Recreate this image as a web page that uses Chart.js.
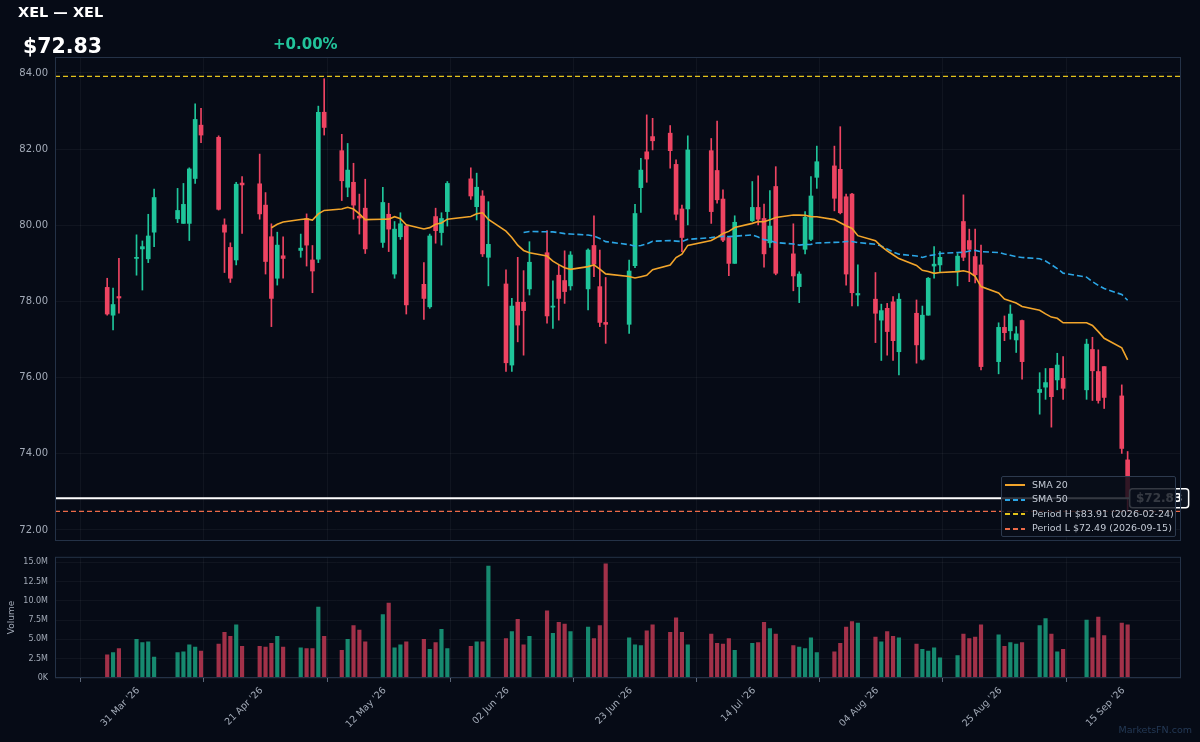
<!DOCTYPE html>
<html>
  <head>
    <title>XEL — XEL</title>
    <style>
      body { margin: 0; background: #060b16; font-family: "DejaVu Sans", sans-serif; }
      #wrap { position: relative; width: 1200px; height: 742px; overflow: hidden; background: #060b16; }
      canvas { position: absolute; left: 0; }
      #price { top: 0; }
      #volume { top: 545px; }
      .txt { position: absolute; line-height: 1; font-weight: bold; white-space: nowrap; }
      #title { left: 18px; top: 5px; font-size: 14.5px; color: #ffffff; }
      #last { left: 23px; top: 36px; font-size: 20.5px; color: #ffffff; }
      #chg { left: 273px; top: 37px; font-size: 15px; color: #22c49b; }
      #mark { position: absolute; right: 8px; top: 724px; font-size: 9.5px; color: rgba(70, 110, 160, 0.45); }
      #legend { position: absolute; left: 1001px; top: 476px; width: 173px; height: 59px;
        background: rgba(8, 13, 24, 0.82); border: 1px solid #2d3a4e; border-radius: 2px; }
      .row { position: absolute; left: 0; height: 14.5px; line-height: 14.5px; font-size: 9.5px; color: #c3cad5; }
      .row span { position: absolute; left: 30px; white-space: nowrap; }
      .row i { position: absolute; left: 3px; top: 6.5px; width: 20px; height: 2px; }
    </style>
  </head>
  <body>
    <div id="wrap">
      <canvas id="price" width="1200" height="554"></canvas>
      <canvas id="volume" width="1200" height="197"></canvas>
      <div class="txt" id="title">XEL — XEL</div>
      <div class="txt" id="last">$72.83</div>
      <div class="txt" id="chg">+0.00%</div>
      <div id="legend"></div>
      <div id="mark">MarketsFN.com</div>
    </div>
    <script src="https://cdn.jsdelivr.net/npm/chart.js@4.4.1/dist/chart.umd.min.js"></script>
    <script>
      // daily candles (NYSE trading days), volume in millions
      const dates = [
        "2026-03-25","2026-03-26","2026-03-27","2026-03-30","2026-03-31","2026-04-01","2026-04-02",
        "2026-04-06","2026-04-07","2026-04-08","2026-04-09","2026-04-10",
        "2026-04-13","2026-04-14","2026-04-15","2026-04-16","2026-04-17",
        "2026-04-20","2026-04-21","2026-04-22","2026-04-23","2026-04-24",
        "2026-04-27","2026-04-28","2026-04-29","2026-04-30","2026-05-01",
        "2026-05-04","2026-05-05","2026-05-06","2026-05-07","2026-05-08",
        "2026-05-11","2026-05-12","2026-05-13","2026-05-14","2026-05-15",
        "2026-05-18","2026-05-19","2026-05-20","2026-05-21","2026-05-22",
        "2026-05-26","2026-05-27","2026-05-28","2026-05-29",
        "2026-06-01","2026-06-02","2026-06-03","2026-06-04","2026-06-05",
        "2026-06-08","2026-06-09","2026-06-10","2026-06-11","2026-06-12",
        "2026-06-15","2026-06-16","2026-06-17","2026-06-18",
        "2026-06-22","2026-06-23","2026-06-24","2026-06-25","2026-06-26",
        "2026-06-29","2026-06-30","2026-07-01","2026-07-02",
        "2026-07-06","2026-07-07","2026-07-08","2026-07-09","2026-07-10",
        "2026-07-13","2026-07-14","2026-07-15","2026-07-16","2026-07-17",
        "2026-07-20","2026-07-21","2026-07-22","2026-07-23","2026-07-24",
        "2026-07-27","2026-07-28","2026-07-29","2026-07-30","2026-07-31",
        "2026-08-03","2026-08-04","2026-08-05","2026-08-06","2026-08-07",
        "2026-08-10","2026-08-11","2026-08-12","2026-08-13","2026-08-14",
        "2026-08-17","2026-08-18","2026-08-19","2026-08-20","2026-08-21",
        "2026-08-24","2026-08-25","2026-08-26","2026-08-27","2026-08-28",
        "2026-08-31","2026-09-01","2026-09-02","2026-09-03","2026-09-04",
        "2026-09-08","2026-09-09","2026-09-10","2026-09-11",
        "2026-09-14","2026-09-15"
      ];
      const opens = [
        78.37,77.64,78.13,79.13,79.38,79.12,79.82,
        80.17,80.05,80.05,81.23,82.63,
        82.31,80.01,79.42,79.09,81.11,
        81.09,80.53,79.70,78.61,79.20,
        79.34,80.18,79.09,79.11,82.97,
        81.96,81.00,81.13,80.24,80.45,
        79.55,80.29,78.72,79.70,79.98,
        78.45,77.86,80.23,79.81,80.36,
        81.22,80.49,80.77,79.16,
        78.46,76.33,77.98,77.98,78.33,
        79.28,77.85,78.69,78.55,78.41,
        78.33,79.47,78.39,77.45,
        77.40,78.94,80.99,81.93,82.33,
        82.42,81.60,80.43,80.43,
        81.96,81.44,80.69,79.68,79.00,
        80.12,80.47,80.18,79.54,81.02,
        79.25,78.39,79.37,79.63,81.26,
        81.56,81.47,80.75,80.82,78.17,
        78.06,77.51,77.82,77.99,76.68,
        77.69,76.48,77.64,78.93,78.96,
        78.78,80.10,79.60,79.18,78.96,
        76.42,77.32,77.23,76.99,77.50,
        75.61,75.75,76.24,75.94,75.98,
        75.68,76.74,76.16,76.29,
        75.52,73.84
      ];
      const highs = [
        78.61,78.35,79.13,79.75,79.59,80.29,80.95,
        80.97,81.10,81.51,83.19,83.07,
        82.35,80.17,79.54,81.13,81.28,
        81.87,80.86,80.04,79.82,79.70,
        79.77,80.30,79.47,83.13,83.85,
        82.39,82.15,81.63,80.82,81.21,
        81.00,80.58,80.10,80.33,80.01,
        79.02,79.77,80.45,80.33,81.15,
        81.51,81.37,80.91,80.62,
        78.83,78.08,79.16,78.81,79.57,
        79.86,78.54,78.96,79.33,79.31,
        79.38,80.25,79.35,78.63,
        79.09,80.55,81.76,82.90,82.81,
        82.62,81.72,80.53,82.35,
        82.28,82.74,80.93,79.70,80.25,
        81.15,81.30,80.56,80.91,81.54,
        80.04,78.78,80.36,81.28,82.08,
        82.08,82.59,80.82,80.84,78.96,
        78.76,77.93,77.95,78.13,78.21,
        78.04,77.88,78.63,79.44,79.31,
        79.26,80.80,79.90,79.90,79.48,
        77.44,77.62,77.91,77.34,77.51,
        76.13,76.24,76.24,76.64,76.55,
        77.01,77.06,76.73,76.29,
        75.81,74.06
      ];
      const lows = [
        77.64,77.25,77.69,78.69,78.30,79.02,79.44,
        80.07,80.05,79.60,81.10,82.17,
        80.40,78.76,78.50,78.96,79.79,
        80.16,78.72,77.34,78.43,78.61,
        79.16,78.93,78.23,79.02,82.37,
        80.65,80.75,80.16,79.77,79.26,
        79.42,79.31,78.61,79.63,77.67,
        77.53,77.82,79.53,79.48,79.98,
        80.68,80.14,79.18,78.41,
        76.16,76.16,76.94,76.59,78.17,
        77.43,77.29,77.51,77.95,78.30,
        77.78,78.65,77.34,76.90,
        77.16,78.89,80.34,81.13,81.98,
        81.50,80.14,79.31,80.01,
        80.05,80.58,79.57,78.68,79.00,
        80.10,80.01,78.90,79.42,78.70,
        78.28,77.97,79.25,79.60,80.97,
        80.38,80.30,78.43,77.88,77.88,
        76.92,76.45,76.59,76.45,76.07,
        76.38,76.46,77.64,78.61,78.78,
        78.41,79.07,78.52,78.49,76.20,
        76.10,76.97,77.01,76.66,75.96,
        75.04,75.43,74.70,75.68,75.43,
        75.43,75.40,75.33,75.19,
        74.01,72.49
      ];
      const closes = [
        77.67,77.92,78.09,79.16,79.44,79.72,80.73,
        80.39,80.55,81.48,82.78,82.37,
        80.42,79.82,78.61,81.08,81.06,
        80.30,79.05,78.08,79.48,79.13,
        79.40,79.48,78.80,82.97,82.57,
        81.17,81.45,80.53,80.19,79.38,
        80.60,79.90,79.90,80.04,77.91,
        78.08,79.72,79.86,80.18,81.10,
        80.77,81.00,79.25,79.50,
        76.39,77.88,77.38,77.76,79.03,
        77.62,77.88,78.08,78.26,79.22,
        79.35,78.98,77.45,77.40,
        78.80,80.31,81.45,81.74,82.22,
        81.96,80.29,79.68,81.98,
        80.36,80.67,79.61,79.00,80.08,
        80.47,80.16,79.25,79.98,78.74,
        78.67,78.72,80.21,80.77,81.67,
        80.71,80.33,78.72,78.23,78.21,
        77.69,77.76,77.21,76.97,78.06,
        76.86,77.64,78.61,78.98,79.16,
        79.19,79.16,79.37,78.70,76.29,
        77.32,77.18,77.67,77.15,76.42,
        75.69,75.87,75.50,76.33,75.72,
        76.88,76.18,75.40,75.48,
        74.14,72.83
      ];
      const volumes = [
        3.0,3.3,3.8,5.0,4.6,4.7,2.7,
        3.3,3.4,4.3,4.0,3.5,
        4.4,5.9,5.4,6.9,4.1,
        4.1,4.0,4.5,5.4,4.0,
        3.9,3.8,3.8,9.2,5.4,
        3.6,5.0,6.8,6.2,4.7,
        8.2,9.7,3.9,4.3,4.7,
        5.0,3.7,4.6,6.3,3.8,
        4.1,4.7,4.7,14.5,
        5.1,6.0,7.6,4.3,5.4,
        8.7,5.8,7.2,7.0,6.0,
        6.6,5.1,6.8,14.8,
        5.2,4.3,4.2,6.1,6.9,
        5.9,7.8,5.9,4.3,
        5.7,4.5,4.4,5.1,3.6,
        4.5,4.6,7.2,6.4,5.7,
        4.2,4.0,3.8,5.2,3.3,
        3.4,4.5,6.6,7.3,7.1,
        5.3,4.7,6.0,5.4,5.2,
        4.4,3.7,3.5,3.9,2.6,
        2.9,5.7,5.1,5.3,6.9,
        5.6,4.1,4.6,4.4,4.6,
        6.8,7.7,5.7,3.4,3.7,
        7.5,5.2,7.9,5.5,
        7.1,6.9
      ];
      const priceTicks = [72, 74, 76, 78, 80, 82, 84];
      const volumeTicks = [0, 2.5, 5, 7.5, 10, 12.5, 15];
      const dateTicks = ["2026-03-31","2026-04-21","2026-05-12","2026-06-02","2026-06-23",
                         "2026-07-14","2026-08-04","2026-08-25","2026-09-15"];
      const periodHigh = 83.91, periodHighDate = "2026-02-24";
      const periodLow = 72.49, periodLowDate = "2026-09-15";
      const lastPrice = 72.83;

      const UP = "#1fc59a", DOWN = "#ee4462";
      const UP_VOL = "rgba(31,197,154,0.68)", DOWN_VOL = "rgba(238,68,98,0.68)";
      const FRAME = "#243247", GRID = "rgba(255,255,255,0.045)", TXT = "#a3abb8";
      const SMA20_C = "#f2a52b", SMA50_C = "#2ba6e6", HIGH_C = "#e3c21b", LOW_C = "#ec6a48";
      const MONTHS = ["Jan","Feb","Mar","Apr","May","Jun","Jul","Aug","Sep","Oct","Nov","Dec"];

      Chart.defaults.font.family = '"DejaVu Sans", sans-serif';
      Chart.defaults.color = TXT;

      const base = Date.UTC(2026, 2, 31);
      const dayOf = (s) => {
        const p = s.split("-").map(Number);
        return (Date.UTC(p[0], p[1] - 1, p[2]) - base) / 86400000;
      };
      const dateLabel = (v) => {
        const d = new Date(base + v * 86400000);
        return String(d.getUTCDate()).padStart(2, "0") + " " + MONTHS[d.getUTCMonth()] + " '" + String(d.getUTCFullYear()).slice(2);
      };
      const xs = dates.map(dayOf);
      const isUp = closes.map((c, i) => c >= opens[i]);
      const X_MIN = -14.9, X_MAX = 177.1;

      function sma(n) {
        const out = [];
        for (let i = n - 1; i < closes.length; i++) {
          let s = 0;
          for (let k = i - n + 1; k <= i; k++) s += closes[k];
          out.push({ x: xs[i], y: s / n });
        }
        return out;
      }

      // legend (html, over the chart)
      const legendItems = [
        ["SMA 20", SMA20_C, false],
        ["SMA 50", SMA50_C, true],
        ["Period H $" + periodHigh.toFixed(2) + " (" + periodHighDate + ")", HIGH_C, true],
        ["Period L $" + periodLow.toFixed(2) + " (" + periodLowDate + ")", LOW_C, true]
      ];
      document.getElementById("legend").innerHTML = legendItems.map((it, i) => {
        const bg = it[2]
          ? "repeating-linear-gradient(90deg," + it[1] + " 0 5px, transparent 5px 8px)"
          : it[1];
        return '<div class="row" style="top:' + (0.5 + i * 14.5) + 'px"><i style="background:' + bg + '"></i><span>' + it[0] + "</span></div>";
      }).join("");

      const frame = {
        id: "frame",
        afterDraw(c) {
          const a = c.chartArea, g = c.ctx;
          g.save();
          g.strokeStyle = FRAME;
          g.lineWidth = 1;
          g.strokeRect(a.left + 0.5, a.top + 0.5, a.width - 1, a.height - 1);
          g.restore();
        }
      };

      const refLines = {
        id: "refLines",
        beforeDatasetsDraw(c) {
          const a = c.chartArea, y = c.scales.y, g = c.ctx;
          g.save();
          g.setLineDash([5, 3]);
          [[periodHigh, HIGH_C, 1.3], [periodLow, LOW_C, 1.3]].forEach(([v, col, w]) => {
            const py = y.getPixelForValue(v);
            g.strokeStyle = col;
            g.lineWidth = w;
            g.beginPath();
            g.moveTo(a.left, py);
            g.lineTo(a.right, py);
            g.stroke();
          });
          g.restore();
        },
        afterDraw(c) {
          const a = c.chartArea, g = c.ctx;
          const py = c.scales.y.getPixelForValue(lastPrice);
          const bx = c.scales.x.getPixelForValue(xs[xs.length - 1]) + 2;
          g.save();
          g.strokeStyle = "#ffffff";
          g.lineWidth = 2;
          g.beginPath();
          g.moveTo(a.left, py);
          g.lineTo(bx, py);
          g.stroke();
          g.beginPath();
          g.roundRect(bx, py - 9.5, 59, 19, 3);
          g.fillStyle = "#0d1422";
          g.fill();
          g.lineWidth = 1.5;
          g.stroke();
          g.fillStyle = "#ffffff";
          g.font = 'bold 12px "DejaVu Sans"';
          g.textAlign = "center";
          g.textBaseline = "middle";
          g.fillText("$" + lastPrice.toFixed(2), bx + 29.5, py + 0.5);
          g.restore();
        }
      };

      const setTicks = (values) => (scale) => { scale.ticks = values.map((v) => ({ value: v })); };

      new Chart(document.getElementById("price"), {
        type: "bar",
        data: {
          datasets: [
            { type: "line", label: "SMA 20", data: sma(20), borderColor: SMA20_C, borderWidth: 1.6,
              pointRadius: 0, order: 0 },
            { type: "line", label: "SMA 50", data: sma(50), borderColor: SMA50_C, borderWidth: 1.6,
              borderDash: [6, 3], pointRadius: 0, order: 0 },
            { label: "body", data: xs.map((x, i) => ({ x, y: [Math.min(opens[i], closes[i]), Math.max(opens[i], closes[i])] })),
              backgroundColor: isUp.map((u) => (u ? UP : DOWN)), barThickness: 4, minBarLength: 1,
              grouped: false, order: 1 },
            { label: "wick", data: xs.map((x, i) => ({ x, y: [lows[i], highs[i]] })),
              backgroundColor: isUp.map((u) => (u ? UP : DOWN)), barThickness: 1,
              grouped: false, order: 2 }
          ]
        },
        options: {
          responsive: false,
          animation: false,
          layout: { padding: { left: 0, right: 19, top: 57, bottom: 0 } },
          plugins: { legend: { display: false }, tooltip: { enabled: false } },
          scales: {
            x: {
              type: "linear", min: X_MIN, max: X_MAX, offset: false,
              afterBuildTicks: setTicks(dateTicks.map(dayOf)),
              afterFit(s) { s.height = 0; },
              ticks: { display: false },
              grid: { color: GRID, drawTicks: false },
              border: { display: false }
            },
            y: {
              min: 71.71, max: 84.42,
              afterBuildTicks: setTicks(priceTicks),
              afterFit(s) { s.width = 55; },
              ticks: { padding: 7, font: { size: 10 }, color: TXT, callback: (v) => v.toFixed(2) },
              grid: { color: GRID, drawTicks: false },
              border: { display: false }
            }
          }
        },
        plugins: [refLines, frame]
      });

      new Chart(document.getElementById("volume"), {
        type: "bar",
        data: {
          datasets: [
            { label: "Volume", data: xs.map((x, i) => ({ x, y: volumes[i] })),
              backgroundColor: isUp.map((u) => (u ? UP_VOL : DOWN_VOL)), barThickness: 3.5, grouped: false }
          ]
        },
        options: {
          responsive: false,
          animation: false,
          layout: { padding: { left: 0, right: 19, top: 0, bottom: 0 } },
          plugins: { legend: { display: false }, tooltip: { enabled: false } },
          scales: {
            x: {
              type: "linear", min: X_MIN, max: X_MAX, offset: false,
              afterBuildTicks: setTicks(dateTicks.map(dayOf)),
              afterFit(s) { s.height = 64; },
              ticks: { autoSkip: false, minRotation: 45, maxRotation: 45, padding: 3, labelOffset: -4,
                       font: { size: 9.5 }, color: TXT, callback: (v) => dateLabel(v) },
              grid: { color: GRID, drawTicks: true, tickLength: 4, tickColor: "#5b6678" },
              border: { display: false }
            },
            y: {
              min: 0, max: 15.7,
              afterBuildTicks: setTicks(volumeTicks),
              afterFit(s) { s.width = 55; },
              title: { display: true, text: "Volume", font: { size: 9 }, color: TXT, padding: { top: 6, bottom: 0 } },
              ticks: { padding: 7, font: { size: 8 }, color: TXT,
                       callback: (v) => (v === 0 ? "0K" : v.toFixed(1) + "M") },
              grid: { color: GRID, drawTicks: false },
              border: { display: false }
            }
          }
        },
        plugins: [frame]
      });
    </script>
  </body>
</html>
